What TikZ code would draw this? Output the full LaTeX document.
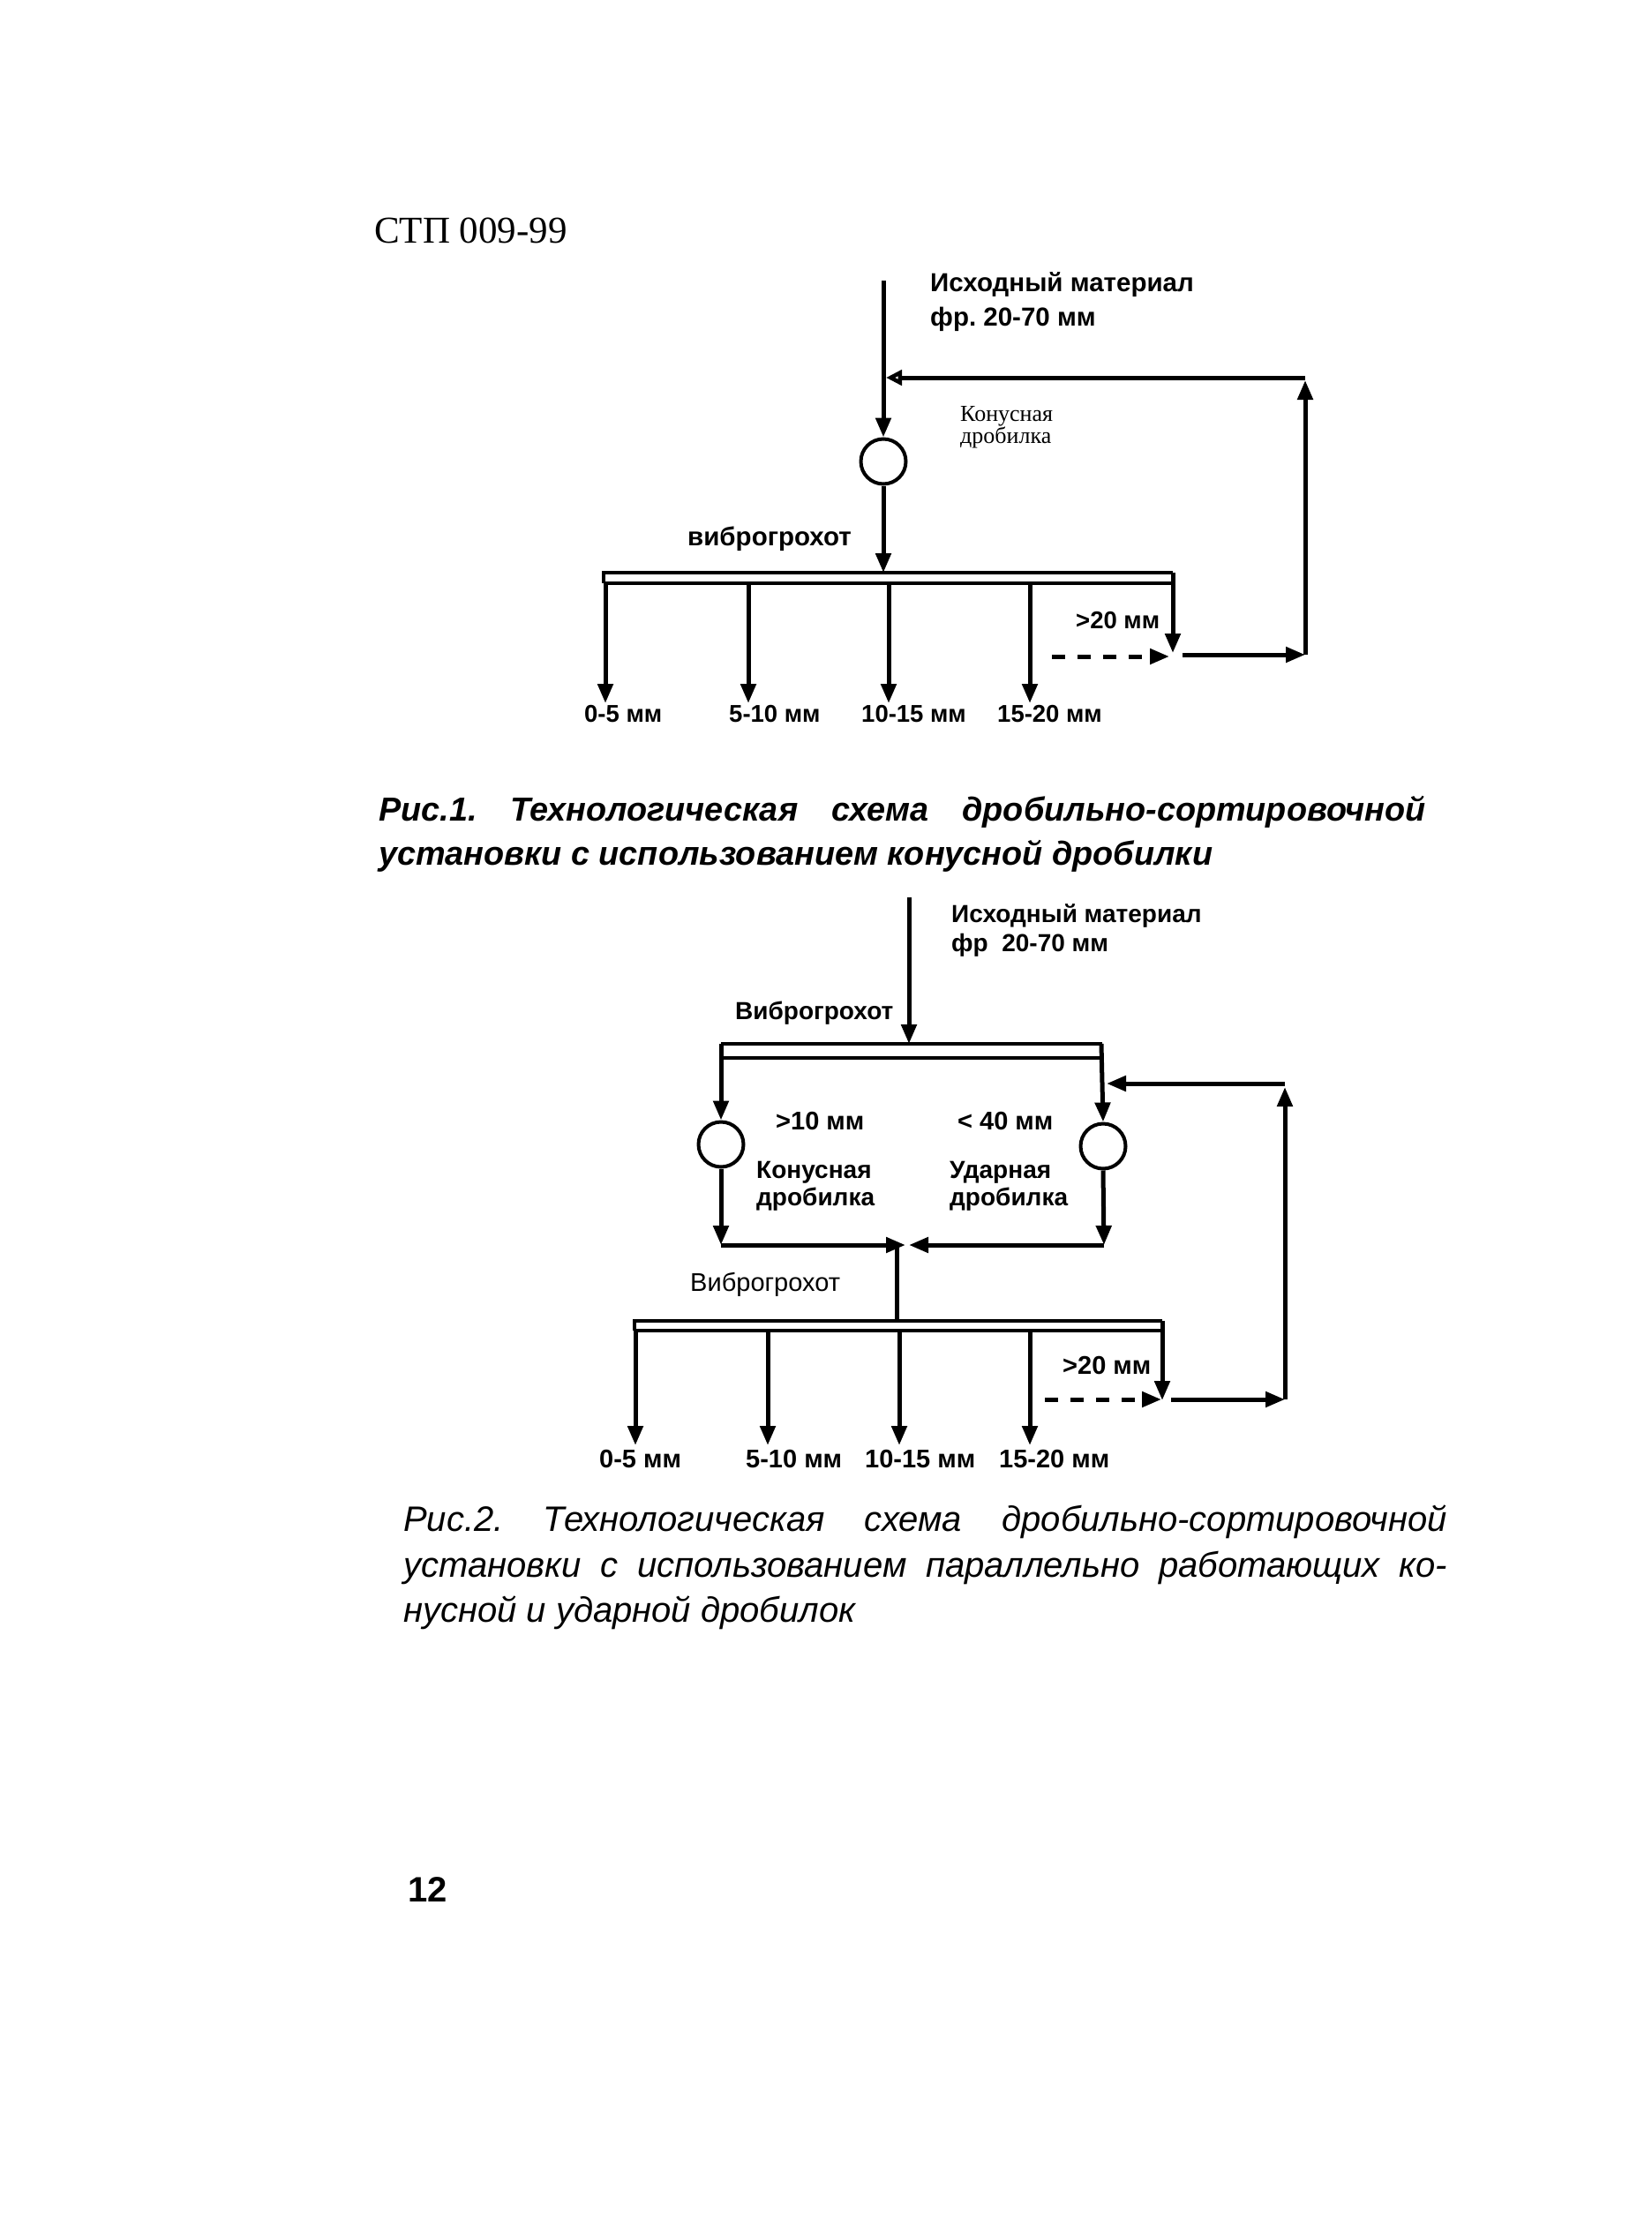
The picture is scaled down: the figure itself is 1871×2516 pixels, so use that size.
\documentclass[tikz,border=0pt]{standalone}
\usepackage{fontspec}
\setmainfont{Liberation Serif}
\setsansfont{Liberation Sans}
\usetikzlibrary{arrows.meta}
\frenchspacing
\newcommand\myhead{\rmfamily\fontsize{43}{46}\selectfont}
\newcommand\mysmallserif{\rmfamily\fontsize{26}{28}\selectfont}
\newcommand\mybold{\sffamily\bfseries\fontsize{29.5}{32}\selectfont}
\newcommand\myboldb{\sffamily\bfseries\fontsize{28}{30}\selectfont}
\newcommand\mylab{\sffamily\bfseries\fontsize{27.5}{30}\selectfont}
\newcommand\mylabb{\sffamily\bfseries\fontsize{29}{30}\selectfont}
\newcommand\myreg{\sffamily\fontsize{29}{30}\selectfont}
\newcommand\mycapA{\frenchspacing\sffamily\bfseries\itshape\fontsize{37.8}{40}\selectfont}
\newcommand\mycapB{\frenchspacing\sffamily\itshape\fontsize{40}{44}\selectfont}
\newcommand\mypage{\sffamily\bfseries\fontsize{40}{44}\selectfont}
\begin{document}
\begin{tikzpicture}[x=1pt,y=-1pt,
  ln/.style={line width=5pt},
  thin/.style={line width=4pt},
  arr/.style={ln,-{Triangle[length=22pt,width=17pt]}},
  oarr/.style={ln,-{Triangle[open,length=18pt,width=17pt]}},
  dsh/.style={ln,dash pattern=on 15pt off 14pt,-{Triangle[length=22pt,width=17pt]}},
  txt/.style={anchor=base west,inner sep=0pt},
  crusher/.style={circle,draw,line width=4pt,minimum size=51pt,inner sep=0pt}]
\useasboundingbox (0,0) rectangle (1871,2516);

% ---------- header ----------
\node[txt,font=\myhead] (hdr) at (424,275) {СТП 009-99};

% ---------- Figure 1 ----------
\node[txt,font=\mybold] (in1a) at (1054,330) {Исходный материал};
\node[txt,font=\mybold] (in1b) at (1054,369) {фр. 20-70 мм};
\node[txt,font=\mysmallserif] (cr1a) at (1088,477) {Конусная};
\node[txt,font=\mysmallserif] (cr1b) at (1088,502) {дробилка};
\node[txt,font=\mybold] (sc1) at (779,618) {виброгрохот};

\coordinate (t1) at (1001,318);
\node[crusher] (c1) at (1001,523) {};
\draw[arr] (t1) -- (c1.north);
\coordinate (s1in) at (1001,649);
\draw[arr] (c1.south) -- (s1in);

\coordinate (s1tl) at (684,649);
\coordinate (s1tr) at (1329,649);
\coordinate (s1bl) at (684,661);
\coordinate (s1br) at (1329,661);
\coordinate (s1out) at (1329,740);
\draw[thin] (s1bl) -- (s1tl) -- (s1tr);
\draw[thin] (s1bl) -- (s1br);
\draw[arr] (s1tr) -- (s1out);

\foreach \x/\n in {686/a,848/b,1007/c,1167/d}{
  \coordinate (o1\n s) at (\x,661);
  \coordinate (o1\n e) at (\x,797);
  \draw[arr] (o1\n s) -- (o1\n e);
}
\node[txt,font=\mylab] (l1a) at (662,818) {0-5 мм};
\node[txt,font=\mylab] (l1b) at (826,818) {5-10 мм};
\node[txt,font=\mylab] (l1c) at (976,818) {10-15 мм};
\node[txt,font=\mylab] (l1d) at (1130,818) {15-20 мм};
\node[txt,font=\mylab] (g1) at (1219,712) {>20 мм};

\coordinate (d1s) at (1192,744);
\coordinate (d1e) at (1325,744);
\draw[dsh] (d1s) -- (d1e);
\coordinate (r1s) at (1340,742);
\coordinate (r1c) at (1479,742);
\coordinate (r1t) at (1479,428);
\coordinate (r1u) at (1479,431);
\coordinate (r1e) at (1004,428);
\draw[arr] (r1s) -- (r1c);
\draw[arr] (r1c) -- (r1u);
\draw[oarr] (r1t) -- (r1e);

% ---------- Caption 1 ----------
\node[txt,font=\mycapA] (cap1a) at (429,930) {\makebox[1186pt][s]{Рис.1. Технологическая схема дробильно-сортировочной}};
\node[txt,font=\mycapA] (cap1b) at (429,980) {установки с использованием конусной дробилки};

% ---------- Figure 2 ----------
\node[txt,font=\myboldb] (in2a) at (1078,1045) {Исходный материал};
\node[txt,font=\myboldb] (in2b) at (1078,1078) {фр\ \ 20-70 мм};
\node[txt,font=\myboldb] (sc2a) at (833,1155) {Виброгрохот};

\coordinate (t2) at (1030,1017);
\coordinate (s2in) at (1030,1183);
\draw[arr] (t2) -- (s2in);

\node[crusher] (c2l) at (817,1297) {};
\node[crusher] (c2r) at (1250,1299) {};
\coordinate (s2tl) at (817,1183);
\coordinate (s2tr) at (1249,1183);
\coordinate (s2bl) at (817,1199);
\coordinate (s2br) at (1249,1199);
\draw[thin] (s2tl) -- (s2tr);
\draw[thin] (s2bl) -- (s2br);
\draw[arr] (s2tl) -- (c2l.north);
\draw[arr] ([xshift=-1pt]s2tr) -- (c2r.north);

\coordinate (b2l) at (817,1411);
\coordinate (b2r) at (1251,1411);
\coordinate (j2l) at (1026,1411);
\coordinate (j2r) at (1030,1411);
\coordinate (j2) at (1016,1411);
\draw[arr] (c2l.south) -- (b2l);
\draw[arr] (c2r.south) -- (b2r);
\draw[arr] (b2l) -- (j2l);
\draw[arr] (b2r) -- (j2r);

\node[txt,font=\mylabb] (m2a) at (879,1280) {>10 мм};
\node[txt,font=\mylabb] (m2b) at (1085,1280) {< 40 мм};
\node[txt,font=\myboldb] (k2a) at (857,1335) {Конусная};
\node[txt,font=\myboldb] (k2b) at (857,1366) {дробилка};
\node[txt,font=\myboldb] (u2a) at (1076,1335) {Ударная};
\node[txt,font=\myboldb] (u2b) at (1076,1366) {дробилка};

\node[txt,font=\myreg] (sc2b) at (782,1463) {Виброгрохот};
\coordinate (s3in) at (1016,1497);
\draw[ln] (j2) -- (s3in);

\coordinate (s3tl) at (719,1497);
\coordinate (s3tr) at (1317,1497);
\coordinate (s3bl) at (719,1508);
\coordinate (s3br) at (1317,1508);
\coordinate (s3out) at (1317,1587);
\draw[thin] (s3bl) -- (s3tl) -- (s3tr);
\draw[thin] (s3bl) -- (s3br);
\draw[arr] (s3tr) -- (s3out);

\foreach \x/\n in {720/a,870/b,1019/c,1167/d}{
  \coordinate (o2\n s) at (\x,1508);
  \coordinate (o2\n e) at (\x,1638);
  \draw[arr] (o2\n s) -- (o2\n e);
}
\node[txt,font=\mylabb] (l2a) at (679,1663) {0-5 мм};
\node[txt,font=\mylabb] (l2b) at (845,1663) {5-10 мм};
\node[txt,font=\mylabb] (l2c) at (980,1663) {10-15 мм};
\node[txt,font=\mylabb] (l2d) at (1132,1663) {15-20 мм};
\node[txt,font=\mylabb] (g2) at (1204,1557) {>20 мм};

\coordinate (d2s) at (1184,1586);
\coordinate (d2e) at (1316,1586);
\draw[dsh] (d2s) -- (d2e);
\coordinate (r2s) at (1327,1586);
\coordinate (r2c) at (1456,1586);
\coordinate (r2t) at (1456,1228);
\coordinate (r2u) at (1456,1232);
\coordinate (r2e) at (1254,1228);
\draw[arr] (r2s) -- (r2c);
\draw[arr] (r2c) -- (r2u);
\draw[arr] (r2t) -- (r2e);

% ---------- Caption 2 ----------
\node[txt,font=\mycapB] (cap2a) at (457,1735) {\makebox[1183pt][s]{Рис.2. Технологическая схема дробильно-сортировочной}};
\node[txt,font=\mycapB] (cap2b) at (457,1787) {\makebox[1183pt][s]{установки с использованием параллельно работающих ко-}};
\node[txt,font=\mycapB] (cap2c) at (457,1838) {нусной и ударной дробилок};

% ---------- page number ----------
\node[txt,font=\mypage] (pg) at (462,2155) {12};
\end{tikzpicture}
\end{document}
